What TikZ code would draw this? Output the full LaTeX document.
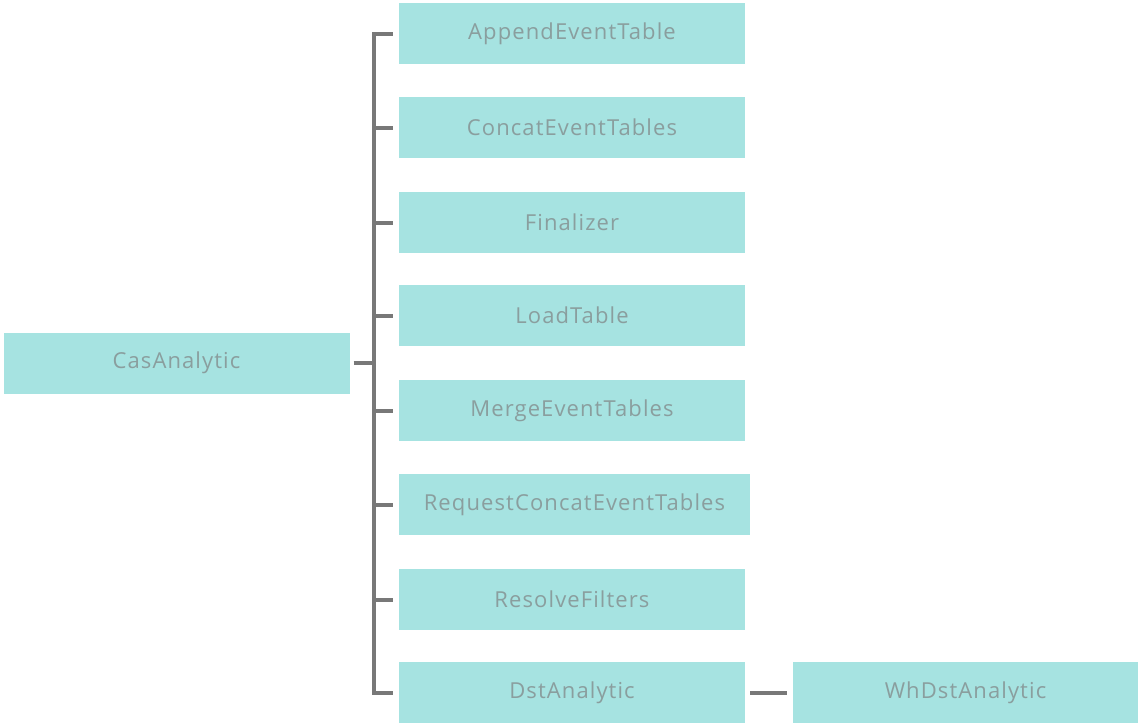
\documentclass[tikz,border=0pt]{standalone}
\usepackage{fontspec}
\setmainfont{Open Sans}[LetterSpace=5]
\definecolor{boxteal}{RGB}{166, 227, 225}
\definecolor{labelgray}{RGB}{138, 158, 158}
\definecolor{linkgray}{RGB}{120, 120, 120}
\usetikzlibrary{positioning, calc}

\begin{document}
\begin{tikzpicture}[x=1pt, y=-1pt,
    cls/.style={fill=boxteal, draw=none, inner sep=0pt, minimum width=346pt, minimum height=61pt,
                font=\fontsize{22}{25}\selectfont, text=labelgray},
    link/.style={linkgray, line width=4pt, line join=miter}]
    \useasboundingbox (0,0) rectangle (1138,723);
    % root
    \node[cls] (cas) at (176.5, 363) {CasAnalytic};
    % children
    \node[cls] (append) at (572, 33.5) {AppendEventTable};
    \node[cls] (concat) at (572, 127.5) {ConcatEventTables};
    \node[cls] (final) at (572, 222.5) {Finalizer};
    \node[cls] (load) at (572, 315.5) {LoadTable};
    \node[cls] (merge) at (572, 410.5) {MergeEventTables};
    \node[cls, minimum width=351pt] (reqconcat) at (574.5, 504.5) {RequestConcatEventTables};
    \node[cls] (resolve) at (572, 599.5) {ResolveFilters};
    \node[cls] (dst) at (572, 692.5) {DstAnalytic};
    \node[cls] (whdst) at (965.5, 692.5) {WhDstAnalytic};
    % tree lines
    \coordinate (trunk) at ($(append.west)+(-25,0)$);
    \draw[link] ([xshift=-6pt]append.west) -- (trunk) -- (trunk |- dst.west) -- ([xshift=-6pt]dst.west);
    \draw[link] ([xshift=4pt]cas.east) -- (trunk |- cas.east);
    \foreach \n in {concat, final, load, merge, reqconcat, resolve}
        \draw[link] (trunk |- \n.west) -- ([xshift=-6pt]append.west |- \n.west);
    \draw[link] ([xshift=5pt]dst.east) -- ([xshift=-5pt]whdst.west);
\end{tikzpicture}
\end{document}
